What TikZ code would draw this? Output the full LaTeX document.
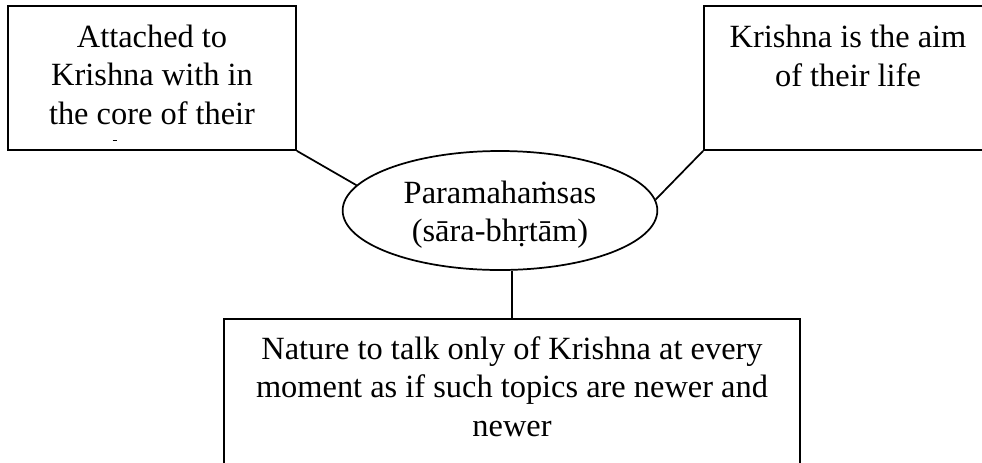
\documentclass[tikz,border=0pt]{standalone}
\usepackage{fontspec}
\setmainfont{Liberation Serif}
\usetikzlibrary{shapes.geometric}
\tikzset{
  frame/.style={draw, rectangle, line width=1.3pt, inner sep=0pt},
  oval/.style={draw, ellipse, line width=1.3pt, inner sep=0pt},
  link/.style={line width=1.3pt},
  txt/.style={anchor=base, inner sep=0pt, font=\fontsize{24.3}{30}\selectfont},
}
\begin{document}
\begin{tikzpicture}[x=0.75pt, y=-0.75pt]
  \useasboundingbox (0,0) rectangle (982,462);
  \clip (0,0) rectangle (982,462);

  % boxes and the central oval
  \node[frame, minimum width=216pt, minimum height=108pt] (lb) at (152,78) {};
  \node[frame, minimum width=216pt, minimum height=108pt] (rb) at (848,78) {};
  \node[frame, minimum width=432pt, minimum height=120.75pt] (bb) at (512,399.5) {};
  \node[oval, minimum width=236pt, minimum height=89.25pt] (el) at (500,210.5) {};

  % text of the left box
  \node[txt] (l1) at (152,47) {Attached to};
  \node[txt] (l2) at (152,85.5) {Krishna with in};
  \node[txt] (l3) at (152,124) {the core of their};
  \draw[line width=0.8pt] (112.5,140.5) -- (116.5,140.5);

  % text of the right box
  \node[txt] (r1) at (848,47) {Krishna is the aim};
  \node[txt] (r2) at (848,86) {of their life};

  % text of the oval
  \node[txt] (e1) at (500,203) {Paramahaṁsas};
  \node[txt] (e2) at (500,241) {(sāra-bhṛtām)};

  % text of the bottom box
  \node[txt] (b1) at (512,359) {Nature to talk only of Krishna at every};
  \node[txt] (b2) at (512,397.5) {moment as if such topics are newer and};
  \node[txt] (b3) at (512,436) {newer};

  % connectors
  \draw[link] (lb.south east) -- (el.170);
  \draw[link] (rb.south west) -- (el.4);
  \draw[link] (bb.north) -- (bb.north |- el.south);
\end{tikzpicture}
\end{document}
